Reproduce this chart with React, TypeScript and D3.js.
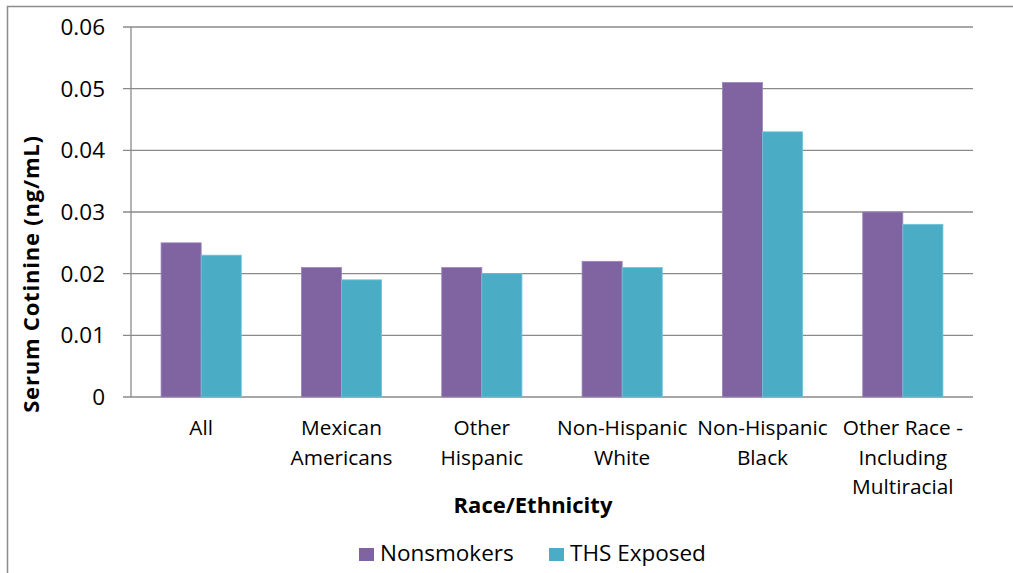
import React from "react";
import * as d3 from "d3";

const categories: string[][] = [
  ["All"],
  ["Mexican", "Americans"],
  ["Other", "Hispanic"],
  ["Non-Hispanic", "White"],
  ["Non-Hispanic", "Black"],
  ["Other Race -", "Including", "Multiracial"],
];
const nonsmokers = [0.025, 0.021, 0.021, 0.022, 0.051, 0.03];
const thsExposed = [0.023, 0.019, 0.02, 0.021, 0.043, 0.028];
const yTicks = [0, 0.01, 0.02, 0.03, 0.04, 0.05, 0.06];
const seriesNames = ["Nonsmokers", "THS Exposed"];
const colors = ["#8064A2", "#4BACC6"];
const strokes = ["#9d86bb", "#6fc3d9"];

const W = 1013;
const H = 573;
const plot = { left: 131, right: 973, top: 27, bottom: 397 };
const FONT = "'Open Sans', sans-serif";

export default function App() {
  const x = d3
    .scaleBand<number>()
    .domain(d3.range(categories.length))
    .range([plot.left, plot.right])
    .paddingInner(0)
    .paddingOuter(0);
  const y = d3.scaleLinear().domain([0, 0.06]).range([plot.bottom, plot.top]);
  const groupW = x.bandwidth();
  // Excel-style 150% gap: two bars share 2/3.5 of the band
  const barW = groupW / 3.5;
  const series = [nonsmokers, thsExposed];

  return (
    <svg
      width={W}
      height={H}
      style={{ position: "absolute", left: 0, top: 0, background: "#fff" }}
      fontFamily={FONT}
    >
      <rect x={0} y={0} width={W} height={H} fill="#fff" />
      {/* outer chart frame */}
      <path d={`M7.5,${H} V6.5 H${W}`} fill="none" stroke="#8c8c8c" strokeWidth={1.5} />

      {/* gridlines and ticks */}
      {yTicks.map((t) => (
        <g key={t}>
          <line
            x1={plot.left - 8}
            x2={plot.right}
            y1={y(t)}
            y2={y(t)}
            stroke="#8a8a8a"
            strokeWidth={1.3}
          />
          <text
            x={105}
            y={y(t)}
            dy="0.36em"
            textAnchor="end"
            fontSize={22.5}
            fill="#000"
          >
            {t === 0 ? "0" : d3.format(".2f")(t)}
          </text>
        </g>
      ))}
      <line x1={plot.left} x2={plot.left} y1={plot.top} y2={plot.bottom} stroke="#8a8a8a" strokeWidth={1.3} />

      {/* bars */}
      {categories.map((_, i) => {
        const cx = (x(i) as number) + groupW / 2;
        return series.map((s, k) => (
          <rect
            key={`${i}-${k}`}
            x={cx - barW + k * barW}
            y={y(s[i])}
            width={barW}
            height={y(0) - y(s[i])}
            fill={colors[k]}
            stroke={strokes[k]}
            strokeWidth={0.8}
          />
        ));
      })}

      {/* category labels */}
      {categories.map((lines, i) => {
        const cx = (x(i) as number) + groupW / 2;
        return (
          <text key={i} x={cx} textAnchor="middle" fontSize={20.8} fill="#000">
            {lines.map((l, j) => (
              <tspan key={j} x={cx} y={435 + j * 29.5}>
                {l}
              </tspan>
            ))}
          </text>
        );
      })}

      {/* axis titles */}
      <text x={533} y={513} textAnchor="middle" fontSize={22} fontWeight="bold" fill="#000">
        Race/Ethnicity
      </text>
      <text
        transform={`translate(39,274) rotate(-90)`}
        textAnchor="middle"
        fontSize={22}
        fontWeight="bold"
        letterSpacing={0.8}
        fill="#000"
      >
        Serum Cotinine (ng/mL)
      </text>

      {/* legend */}
      {seriesNames.map((n, k) => {
        const lx = [359, 549][k];
        return (
          <g key={n}>
            <rect x={lx} y={548} width={15} height={13} fill={colors[k]} />
            <text x={lx + 21} y={561} fontSize={22.5} fill="#000">
              {n}
            </text>
          </g>
        );
      })}
    </svg>
  );
}
